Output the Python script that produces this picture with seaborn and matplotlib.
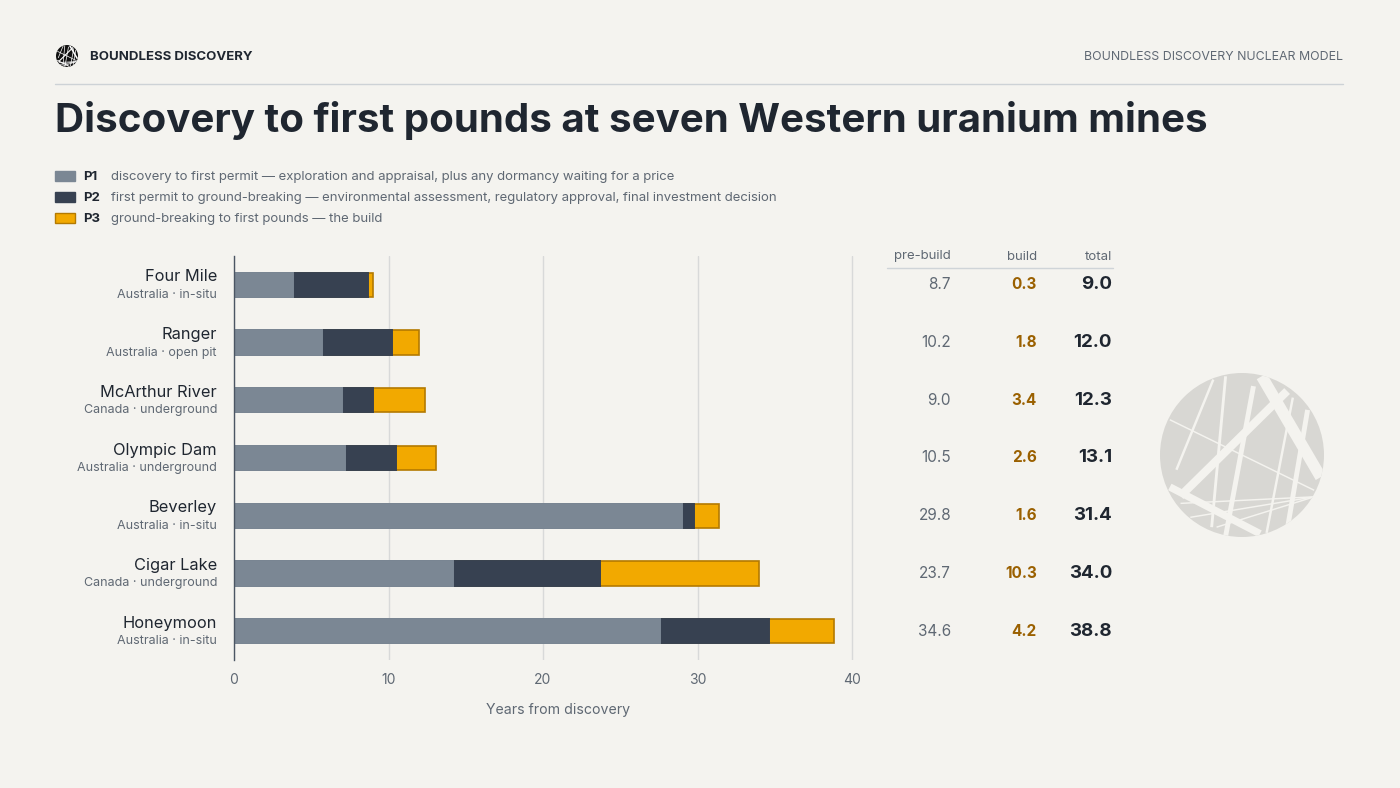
import numpy as np
import pandas as pd
import matplotlib.pyplot as plt
import seaborn as sns
from matplotlib.patches import Circle, Rectangle
from matplotlib.lines import Line2D
import matplotlib.transforms as mtransforms

# data
mines = ["Four Mile", "Ranger", "McArthur River", "Olympic Dam", "Beverley", "Cigar Lake", "Honeymoon"]
subtitles = ["Australia · in-situ", "Australia · open pit", "Canada · underground", "Australia · underground",
             "Australia · in-situ", "Canada · underground", "Australia · in-situ"]
p1 = [3.8, 5.7, 6.97, 7.2, 29.0, 14.2, 27.6]
p2 = [4.9, 4.5, 2.0, 3.3, 0.8, 9.5, 7.0]
p3 = [0.3, 1.8, 3.36, 2.6, 1.6, 10.3, 4.2]

phase_names = ["P1", "P2", "P3"]
phase_desc = ["discovery to first permit — exploration and appraisal, plus any dormancy waiting for a price",
              "first permit to ground-breaking — environmental assessment, regulatory approval, final investment decision",
              "ground-breaking to first pounds — the build"]

BG = "#f4f3ef"
C1 = "#7b8794"
C2 = "#374151"
C3 = "#f2a900"
C3_EDGE = "#b47a00"
DARK = "#1f2630"
GRAY = "#5f6873"
BROWN = "#9a6000"

df = pd.DataFrame({"mine": mines, "p1": p1, "p2": p2, "p3": p3})
df["pre"] = df["p1"] + df["p2"]
df["total"] = df["pre"] + df["p3"]

sns.set_theme(style="white")
plt.rcParams["font.family"] = ["Inter", "DejaVu Sans"]

fig = plt.figure(figsize=(14, 7.88), dpi=100)
fig.patch.set_facecolor(BG)

W, H = 1400, 788
def fx(x):
    return x / W
def fy(y):
    return 1 - y / H

# x axis runs a bit past 40, like the reference
ax = fig.add_axes([fx(234), fy(660), fx(883) - fx(234), fy(256) - fy(660)])
ax.set_facecolor(BG)

bh = 0.42
# stacked bars drawn as cumulative layers
sns.barplot(data=df, y="mine", x="total", color=C3, orient="h", width=bh, ax=ax,
            edgecolor=C3_EDGE, linewidth=1.2, saturation=1)
sns.barplot(data=df, y="mine", x="pre", color=C2, orient="h", width=bh, ax=ax,
            edgecolor=C2, linewidth=1.4, saturation=1)
sns.barplot(data=df, y="mine", x="p1", color=C1, orient="h", width=bh, ax=ax,
            edgecolor=C1, linewidth=1.4, saturation=1)

ax.set_xlim(0, 42)
ax.set_ylim(6.5, -0.5)
ax.set_xticks([0, 10, 20, 30, 40])
ax.set_xticklabels(["0", "10", "20", "30", "40"], fontsize=10, color=GRAY)
ax.tick_params(axis="x", length=0, pad=9)
ax.set_yticks([])
ax.set_ylabel("")
ax.set_xlabel("Years from discovery", fontsize=10.2, color=GRAY, labelpad=12)
ax.grid(axis="x", color="#d8d9d9", linewidth=1)
ax.set_axisbelow(True)
for s in ["top", "right", "bottom"]:
    ax.spines[s].set_visible(False)
ax.spines["left"].set_color("#4b5563")
ax.spines["left"].set_linewidth(1)

# category labels
lab_tr = mtransforms.offset_copy(ax.get_yaxis_transform(), fig=fig, x=-17, y=0, units="dots")
for i, (name, sub) in enumerate(zip(mines, subtitles)):
    ax.text(0, i, name, transform=mtransforms.offset_copy(lab_tr, fig=fig, y=8, units="dots"),
            ha="right", va="center", fontsize=11.8, color=DARK)
    ax.text(0, i, sub, transform=mtransforms.offset_copy(lab_tr, fig=fig, y=-10, units="dots"),
            ha="right", va="center", fontsize=9, color=GRAY)

# table on the right
col_x = [951, 1037, 1112]
blend = mtransforms.blended_transform_factory(fig.transFigure, ax.transData)
for xx, head in zip(col_x, ["pre-build", "build", "total"]):
    fig.text(fx(xx), fy(256.5), head, ha="right", va="center", fontsize=9.5, color=GRAY)
fig.add_artist(Line2D([fx(887), fx(1113)], [fy(268), fy(268)], color="#cfd4d8", linewidth=1))
for i, row in df.iterrows():
    ax.text(fx(col_x[0]), i, f"{row['pre']:.1f}", transform=blend, ha="right", va="center",
            fontsize=11, color=GRAY)
    ax.text(fx(col_x[1]), i, f"{row['p3']:.1f}", transform=blend, ha="right", va="center",
            fontsize=11, color=BROWN, fontweight="bold")
    ax.text(fx(col_x[2]), i, f"{row['total']:.1f}", transform=blend, ha="right", va="center",
            fontsize=13.5, color=DARK, fontweight="bold")

# header
fig.text(fx(90), fy(57.5), "BOUNDLESS DISCOVERY", ha="left", va="center", fontsize=9.5,
         fontweight="bold", color=DARK)
fig.text(fx(1343), fy(57.5), "BOUNDLESS DISCOVERY NUCLEAR MODEL", ha="right", va="center",
         fontsize=8.9, color=GRAY)
fig.add_artist(Line2D([fx(55), fx(1343)], [fy(84), fy(84)], color="#cdd2d6", linewidth=1))
fig.text(fx(55), fy(121), "Discovery to first pounds at seven Western uranium mines", ha="left",
         va="center", fontsize=29, fontweight="bold", color=DARK)

# legend
leg_y = [176, 197, 218]
for yy, name, desc, col, ec in zip(leg_y, phase_names, phase_desc, [C1, C2, C3], [C1, C2, C3_EDGE]):
    fig.add_artist(Rectangle((fx(55), fy(yy + 5)), fx(20), fy(yy - 5) - fy(yy + 5),
                             facecolor=col, edgecolor=ec, linewidth=1, transform=fig.transFigure))
    fig.text(fx(83), fy(yy + 1), name, ha="left", va="center", fontsize=9.5, fontweight="bold", color=DARK)
    fig.text(fx(111), fy(yy + 1), desc, ha="left", va="center", fontsize=9.45, color=GRAY)


# logo marks: a disc crossed by straight strokes (unit-circle coords, width as fraction of radius)
strokes = [((0.24, 0.96), (0.96, -0.27), 0.14),
           ((0.55, 0.78), (-0.75, -0.50), 0.10),
           ((-0.88, -0.39), (0.22, -0.96), 0.09),
           ((0.14, 0.84), (-0.22, -1.10), 0.06),
           ((-0.20, 0.96), (-0.37, -0.88), 0.035),
           ((0.80, 0.55), (0.55, -0.92), 0.06),
           ((-0.88, 0.43), (0.88, -0.43), 0.018),
           ((0.88, -0.51), (-0.75, -0.59), 0.018),
           ((0.88, -0.51), (-0.63, -0.76), 0.018),
           ((0.88, -0.51), (-0.31, -0.88), 0.018),
           ((-0.35, 0.92), (-0.80, -0.18), 0.03),
           ((0.62, 0.70), (0.30, -0.95), 0.03)]


def draw_logo(cx, cy, r, face, line_col):
    lax = fig.add_axes([fx(cx - r), fy(cy + r), 2 * r / W, 2 * r / H])
    lax.set_xlim(-1, 1)
    lax.set_ylim(-1, 1)
    lax.axis("off")
    disc = Circle((0, 0), 1, facecolor=face, edgecolor="none")
    lax.add_patch(disc)
    for (a, b, w) in strokes:
        ln = Line2D([a[0], b[0]], [a[1], b[1]], color=line_col,
                    linewidth=max(w * r * 0.72, 0.5), solid_capstyle="butt")
        lax.add_line(ln)
        ln.set_clip_path(disc)


draw_logo(1242, 455, 82, "#d8d7d3", BG)
draw_logo(67, 56, 11, "#111111", "white")

fig.savefig("out.png", dpi=100, facecolor=BG)
